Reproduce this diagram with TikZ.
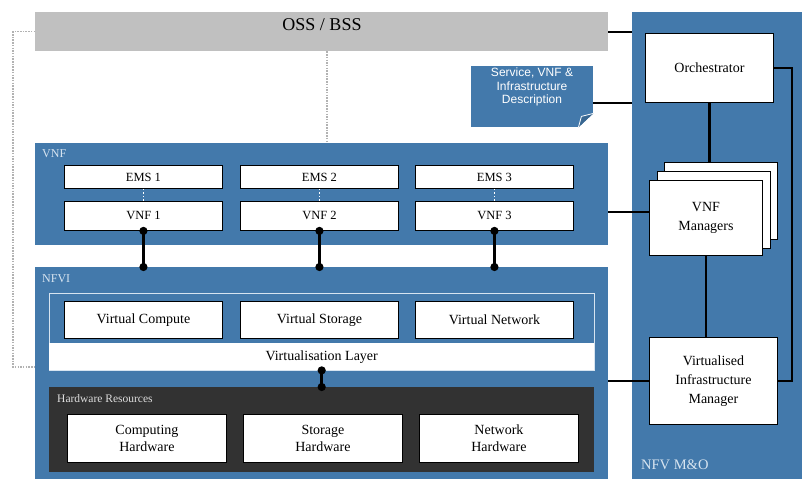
\documentclass[tikz,border=0pt]{standalone}
\usepackage{fontspec}
\setmainfont{Liberation Serif}
\setsansfont{Liberation Sans}
\usetikzlibrary{arrows.meta}
\definecolor{nfvblue}{RGB}{67,121,171}
\definecolor{ossgray}{RGB}{192,192,192}
\definecolor{hwdark}{RGB}{50,50,50}
\definecolor{lblblue}{RGB}{215,228,240}
\begin{document}
\begin{tikzpicture}[x=1pt,y=-1pt,
    panel/.style={fill=nfvblue, inner sep=0pt, anchor=north west},
    blk/.style={draw=black, fill=white, line width=0.9pt, inner sep=0pt,
      anchor=north west, align=center, font=\fontsize{12.5}{16}\selectfont},
    lbl/.style={text=lblblue, inner sep=0pt, anchor=west, font=\fontsize{12}{14}\selectfont},
    conn/.style={line width=2.2pt},
    dotlink/.style={line width=2.5pt, {Circle[length=8pt]}-{Circle[length=8pt]},
      shorten <=-4pt, shorten >=-4pt},
    ossdots/.style={gray!60, line width=1.5pt, dash pattern=on 1.5pt off 1.2pt}]
  \useasboundingbox (0,0) rectangle (802,479);

  \node[panel, fill=ossgray, minimum width=573pt, minimum height=39pt] (oss) at (35,12) {};
  \node[font=\fontsize{18}{20}\selectfont] (osstitle) at (322,25) {OSS / BSS};
  \node[panel, minimum width=170pt, minimum height=467pt] (mano) at (632,12) {};
  \node[lbl, font=\fontsize{14.5}{16}\selectfont] (manotitle) at (641,465) {NFV M\&O};

  \node[panel, minimum width=573pt, minimum height=102pt] (vnfbox) at (35,143) {};
  \node[lbl] (vnftitle) at (42,154) {VNF};
  \node[panel, minimum width=573pt, minimum height=212pt] (nfvi) at (35,267) {};
  \node[lbl] (nfvititle) at (42,279) {NFVI};

  \node[draw=lblblue, line width=0.6pt, minimum width=545pt, minimum height=77pt,
    inner sep=0pt, anchor=north west] (virt) at (49,293) {};
  \node[fill=white, minimum width=545pt, minimum height=27pt, inner sep=0pt,
    anchor=north west, font=\fontsize{14}{15}\selectfont] (vlayer) at (49,343) {Virtualisation Layer};
  \node[panel, fill=hwdark, minimum width=545pt, minimum height=85pt] (hw) at (49,387) {};
  \node[lbl, text=gray!25, font=\fontsize{11.5}{12}\selectfont] (hwtitle) at (57,399) {Hardware Resources};

  \foreach \i/\x in {1/64,2/240,3/415} {
    \node[blk, minimum width=158pt, minimum height=23pt] (ems\i) at (\x,165) {EMS \i};
    \node[blk, minimum width=158pt, minimum height=29pt] (vnf\i) at (\x,201) {VNF \i};
    \draw[white, dotted, line width=1.5pt] (ems\i.south) -- (vnf\i.north);
    \draw[dotlink] (vnf\i.south) -- (vnf\i.south |- nfvi.north);
  }
  \foreach \i/\x/\txt in {1/64/Compute,2/240/Storage,3/415/Network}
    \node[blk, minimum width=158pt, minimum height=37pt, font=\fontsize{14}{15}\selectfont]
      (virt\i) at (\x,301) {Virtual \txt};
  \foreach \i/\x/\txt in {1/67/{Computing\\Hardware},2/243/{Storage\\Hardware},3/419/{Network\\Hardware}}
    \node[blk, minimum width=159pt, minimum height=48pt, font=\fontsize{14}{17}\selectfont]
      (hw\i) at (\x,414) {\txt};
  \draw[dotlink] (vlayer.south) -- (vlayer.south |- hw.north);

  \coordinate (ossloop) at (13,367);
  \coordinate (osstap) at (327,51);
  \draw[ossdots] (oss.west) -| (ossloop) -- (ossloop -| nfvi.west);
  \draw[ossdots] (osstap |- oss.south) -- (osstap |- vnfbox.north);

  \node[fill=nfvblue, minimum width=122pt, minimum height=61pt, inner sep=0pt,
    anchor=north west] (desc) at (471,66) {};
  \node[text=white, align=center, font=\sffamily\fontsize{12}{13.5}\selectfont] (desctext) at (532,87)
    {Service, VNF \&\\Infrastructure\\Description};
  \fill[white] (desc.south east) -- ([yshift=14pt]desc.south east) -- ([xshift=-15pt]desc.south east) -- cycle;
  \draw[white, line width=0.8pt, fill=nfvblue!85!black] ([yshift=14pt]desc.south east)
    -- ([xshift=-12pt,yshift=11pt]desc.south east) -- ([xshift=-15pt]desc.south east);

  \node[blk, minimum width=128pt, minimum height=69pt, font=\fontsize{14}{15}\selectfont] (orch) at (645,33) {Orchestrator};
  \node[blk, minimum width=113pt, minimum height=77pt] (mgr3) at (664,162) {};
  \node[blk, minimum width=113pt, minimum height=77pt] (mgr2) at (657,171) {};
  \node[blk, minimum width=113pt, minimum height=75pt, font=\fontsize{14}{19}\selectfont] (mgr) at (649,180) {VNF\\Managers};
  \node[blk, minimum width=128pt, minimum height=87pt, font=\fontsize{14}{19}\selectfont] (vim) at (649,337)
    {Virtualised\\Infrastructure\\Manager};

  \draw[conn] (oss.east) -- (oss.east -| mano.west);
  \draw[conn] ([yshift=-6pt]desc.east) -- ([yshift=-6pt]desc.east -| mano.west);
  \draw[conn] ([yshift=6pt]mgr.west -| vnfbox.east) -- ([yshift=6pt]mgr.west);
  \draw[conn] (vim.west -| nfvi.east) -- (vim.west);
  \draw[conn] (orch.south) -- (orch.south |- mgr3.north);
  \draw[conn] (mgr.south) -- (mgr.south |- vim.north);
  \draw[conn] (orch.east) -- ++(18,0) |- (vim.east);
\end{tikzpicture}
\end{document}
